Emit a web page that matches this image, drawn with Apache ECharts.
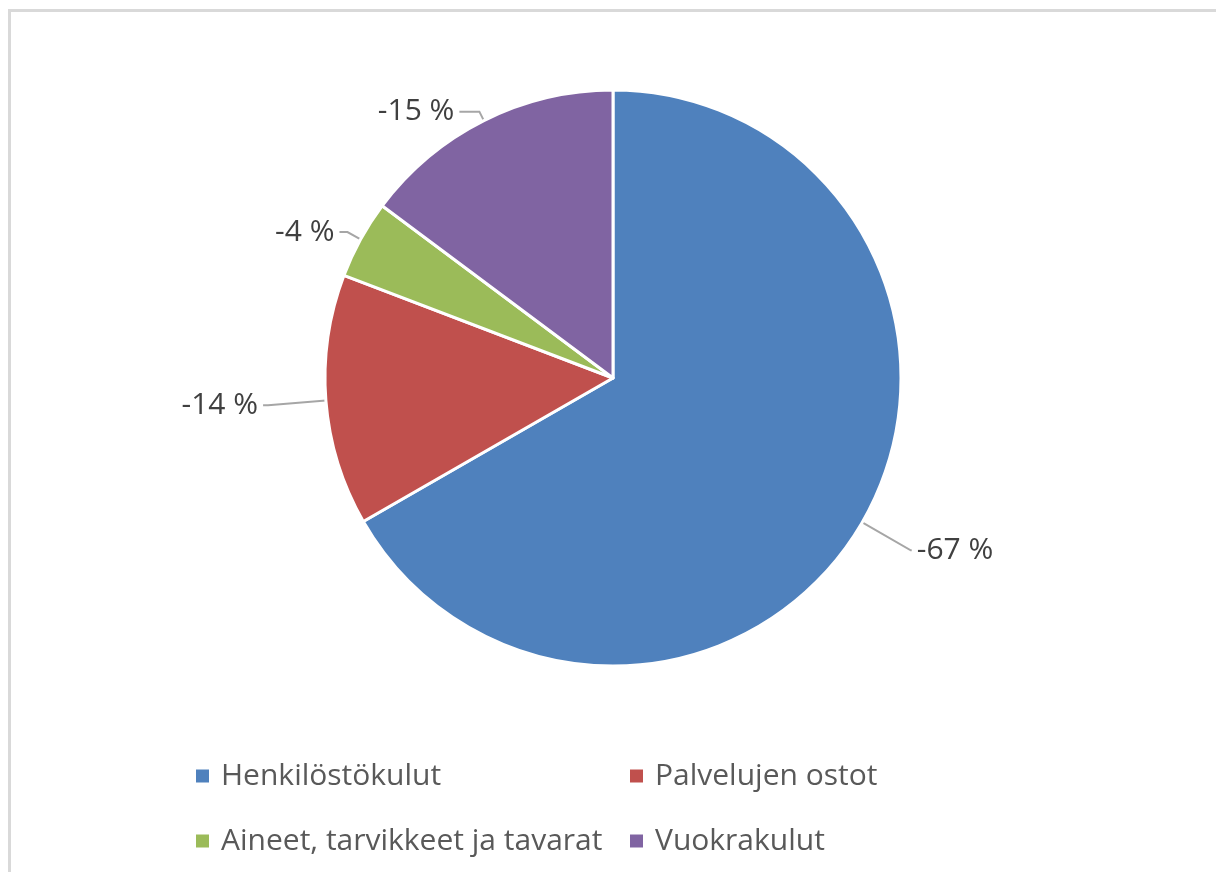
<!DOCTYPE html>
<html>
<head>
<meta charset="utf-8">
<script src="https://cdn.jsdelivr.net/npm/echarts@6/dist/echarts.min.js"></script>
<style>
  html, body { margin: 0; padding: 0; background: #fff; }
  .frame {
    position: absolute;
    left: 8px;
    top: 9px;
    width: 1300px;
    height: 1000px;
    border: 3px solid #d9d9d9;
    box-sizing: border-box;
  }
  #chart {
    position: absolute;
    left: 0;
    top: 0;
    width: 1216px;
    height: 872px;
  }
</style>
</head>
<body>
<div class="frame"></div>
<div id="chart"></div>
<script>
// kulurakenne, muutos %
const names = ['Henkilöstökulut', 'Palvelujen ostot', 'Aineet, tarvikkeet ja tavarat', 'Vuokrakulut']
const values = [-66.7, -14.1, -4.4, -14.8]
const colors = ['#4f81bd', '#c0504d', '#9bbb59', '#8064a2']

// leader line lengths per slice (Excel places these by hand)
const lineLen = [[56, 1], [58, 5], [15, 8], [10, 20]]

const font = "'Open Sans', 'Noto Sans', sans-serif"

const chart = echarts.init(document.getElementById('chart'))

const legendBase = {
  orient: 'vertical',
  top: 761,
  padding: 0,
  icon: 'rect',
  itemWidth: 15,
  itemHeight: 15,
  itemGap: 35,
  selectedMode: false,
  textStyle: {
    color: '#595959',
    fontSize: 30,
    fontFamily: font,
    lineHeight: 30,
    padding: [0, 0, 0, 6],
  },
}

chart.setOption({
  animation: false,
  backgroundColor: 'transparent',
  legend: [
    { ...legendBase, left: 194, data: [names[0], names[2]] },
    { ...legendBase, left: 628, data: [names[1], names[3]] }
  ],
  series: [
    {
      type: 'pie',
      center: [613, 378],
      radius: 288,
      startAngle: 90,
      clockwise: true,
      avoidLabelOverlap: false,
      emphasis: { disabled: true },
      itemStyle: {
        borderColor: '#fff',
        borderWidth: 3,
      },
      label: {
        show: true,
        position: 'outside',
        color: '#404040',
        fontSize: 30,
        fontFamily: font,
        formatter: p => Math.round(values[p.dataIndex]) + ' %',
      },
      labelLine: {
        show: true,
        lineStyle: { color: '#a6a6a6', width: 2 },
      },
      data: names.map((name, i) => ({
        name,
        value: Math.abs(values[i]),
        itemStyle: { color: colors[i] },
        labelLine: { length: lineLen[i][0], length2: lineLen[i][1] },
      })),
    }
  ],
})

window.addEventListener('resize', () => chart.resize())
</script>
</body>
</html>
